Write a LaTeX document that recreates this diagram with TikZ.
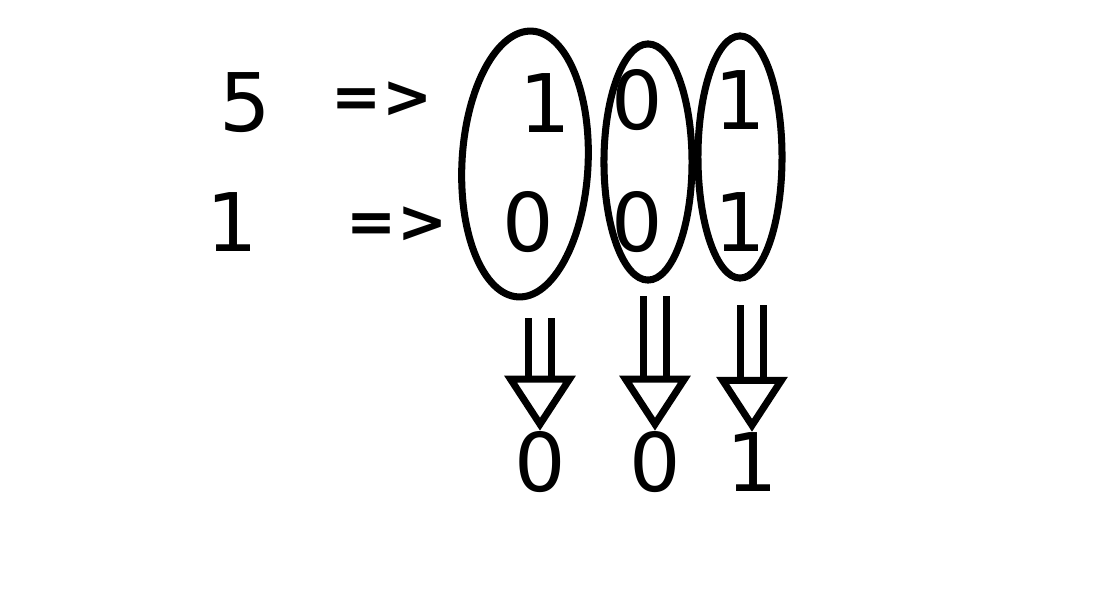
\documentclass[tikz,border=0pt]{standalone}
\usepackage{fontspec}
\setmainfont{DejaVu Sans}
\usetikzlibrary{shapes.geometric,arrows.meta}
\tikzset{
  digit/.style={inner sep=0pt, font=\fontsize{23}{27}\selectfont},
  implies/.style={inner sep=0pt, font=\fontsize{17}{21}\selectfont\bfseries},
  group/.style={draw, ellipse, line width=2pt, inner sep=0pt},
  fat/.style={line width=2pt, double distance=4.5pt,
    -{Triangle[open, length=0.55cm, width=0.7cm]}}
}
\begin{document}
\begin{tikzpicture}[x=0.01cm, y=-0.01cm]
  \useasboundingbox (0,0) rectangle (1111,593);
  % left side
  \node[digit] (five) at (245,103) {5};
  \node[digit] (one) at (232,222) {1};
  \node[implies] (to5) at (382,100) {=>};
  \node[implies] (to1) at (397,225) {=>};
  % bit columns
  \node[group, minimum width=1.26cm, minimum height=2.66cm, rotate=-3] (c1) at (525,164) {};
  \node[group, minimum width=0.88cm, minimum height=2.36cm] (c2) at (648,162) {};
  \node[group, minimum width=0.84cm, minimum height=2.42cm] (c3) at (740,157) {};
  \node[digit] (b11) at (545,103) {1};
  \node[digit] (b12) at (637,100) {0};
  \node[digit] (b13) at (740,100) {1};
  \node[digit] (b21) at (528,222) {0};
  \node[digit] (b22) at (637,222) {0};
  \node[digit] (b23) at (740,222) {1};
  % results
  \node[digit] (r1) at (540,462) {0};
  \node[digit] (r2) at (655,462) {0};
  \node[digit] (r3) at (752,462) {1};
  \coordinate (s1) at (540,318);
  \coordinate (s2) at (655,296);
  \coordinate (s3) at (752,305);
  \draw[fat] (s1) -- (r1);
  \draw[fat] (s2) -- (r2);
  \draw[fat] (s3) -- (r3);
\end{tikzpicture}
\end{document}
